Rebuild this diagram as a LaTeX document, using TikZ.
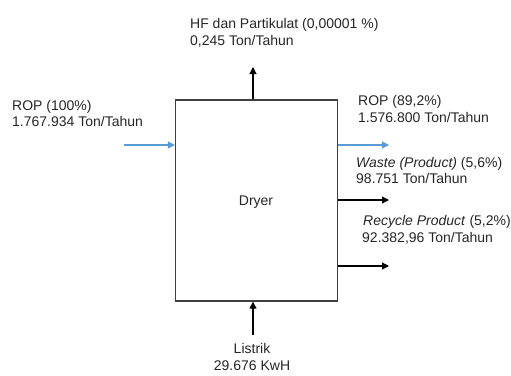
\documentclass[tikz,border=0pt]{standalone}
\usepackage{fontspec}
\setmainfont{Liberation Sans}
\usetikzlibrary{arrows.meta}
\definecolor{flowblue}{RGB}{91,155,213}
\definecolor{boxgray}{RGB}{64,64,64}
\tikzset{
  lbl/.style={anchor=base west, inner sep=0pt, font=\fontsize{14}{16}\selectfont, text=black!85},
  lblc/.style={anchor=base, inner sep=0pt, font=\fontsize{14}{16}\selectfont, text=black!85},
  flow/.style={line width=1.1pt, -{Triangle[length=7pt,width=7pt]}},
  blueflow/.style={flow, draw=flowblue, -{Triangle[length=7pt,width=7pt,fill=flowblue]}},
  blackflow/.style={flow, draw=black},
  unitbox/.style={draw=boxgray, line width=1.3pt, minimum width=162pt, minimum height=201pt, inner sep=0pt, fill=white}
}
\begin{document}
\begin{tikzpicture}[x=1pt,y=-1pt]
\useasboundingbox (0,0) rectangle (511,375);
% box
\node[unitbox] (dryer) at (256.5,200.5) {};
\node[lblc] (dryerlbl) at (256,205) {Dryer};
% coordinates for free ends
\coordinate (inL) at (124,145);
\coordinate (hfend) at (253,67);
\coordinate (elstart) at (253,335);
\coordinate (outrop) at (389,145);
\coordinate (outwaste) at (389,200);
\coordinate (outrec) at (389,266);
% arrows
\draw[blueflow] (inL) -- (inL -| dryer.west);
\draw[blackflow] (hfend |- dryer.north) -- (hfend);
\draw[blackflow] (elstart) -- (elstart |- dryer.south);
\draw[blueflow] (outrop -| dryer.east) -- (outrop);
\draw[blackflow] (outwaste -| dryer.east) -- (outwaste);
\draw[blackflow] (outrec -| dryer.east) -- (outrec);
% texts
\node[lbl] (hf1) at (190,28) {HF dan Partikulat (0,00001 \%)};
\node[lbl] (hf2) at (190,45) {0,245 Ton/Tahun};
\node[lbl] (in1) at (12,110) {ROP (100\%)};
\node[lbl] (in2) at (12,126) {1.767.934 Ton/Tahun};
\node[lbl] (rop1) at (358,105) {ROP (89,2\%)};
\node[lbl] (rop2) at (358,122) {1.576.800 Ton/Tahun};
\node[lbl] (w1) at (356,167) {\textit{Waste (Product)} (5,6\%)};
\node[lbl] (w2) at (356,183) {98.751 Ton/Tahun};
\node[lbl] (r1) at (363,225) {\textit{Recycle Product} (5,2\%)};
\node[lbl] (r2) at (362,242) {92.382,96 Ton/Tahun};
\node[lblc] (el1) at (252,353) {Listrik};
\node[lblc] (el2) at (252,370) {29.676 KwH};
\end{tikzpicture}
\end{document}
